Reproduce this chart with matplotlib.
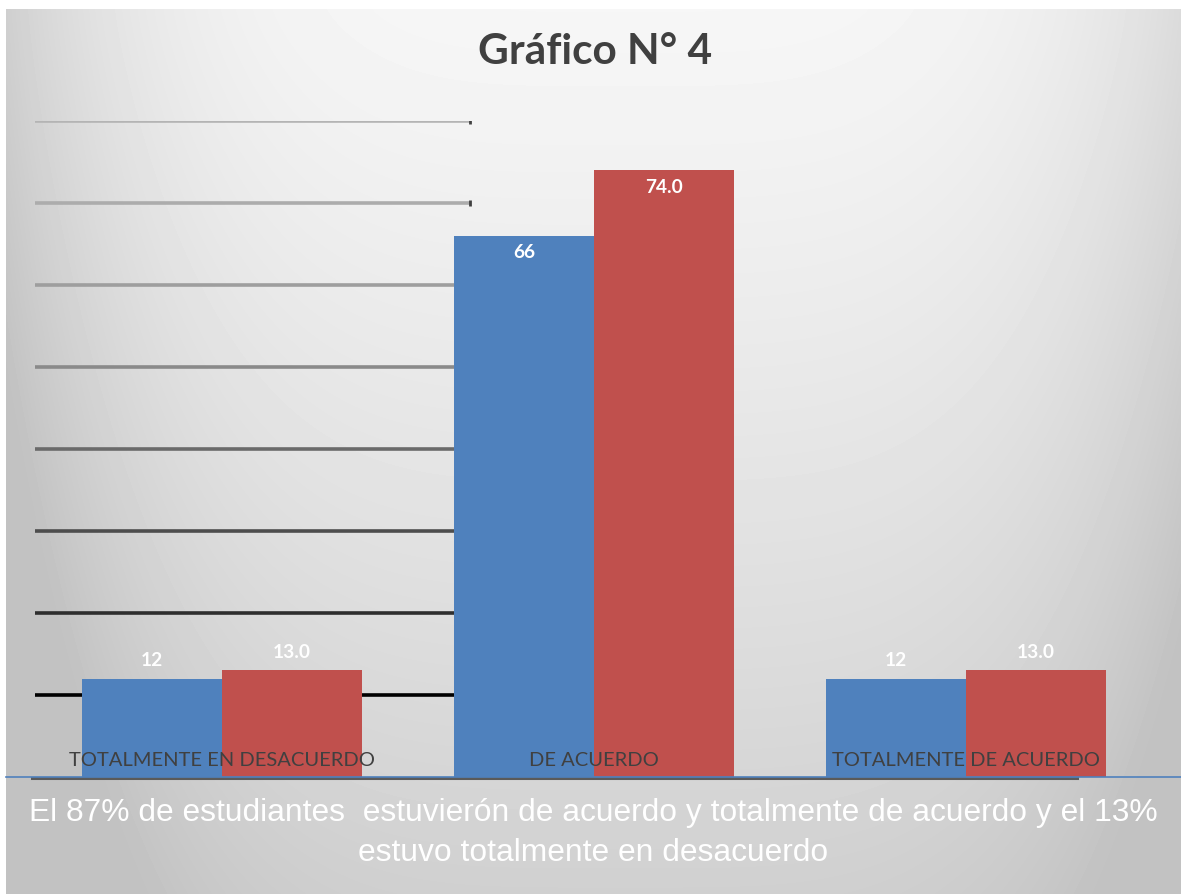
import numpy as np
import matplotlib
matplotlib.use("Agg")
import matplotlib.pyplot as plt

# data
categorias = ["TOTALMENTE EN DESACUERDO", "DE ACUERDO", "TOTALMENTE DE ACUERDO"]
serie_azul = [12, 66, 12]
serie_roja = [13.0, 74.0, 13.0]
etiq_azul = ["12", "66", "12"]
etiq_roja = ["13.0", "74.0", "13.0"]
grid_vals = [10, 20, 30, 40, 50, 60, 70, 80]
grid_cols = ["#000000", "#2e2e2e", "#4d4d4d", "#6a6a6a", "#8a8a8a", "#9e9e9e", "#acacac", "#b4b4b4"]

titulo = "Gráfico N° 4"
nota1 = "El 87% de estudiantes  estuvierón de acuerdo y totalmente de acuerdo y el 13%"
nota2 = "estuvo totalmente en desacuerdo"

W, H = 1181, 895
fig = plt.figure(figsize=(W / 100, H / 100), dpi=100)
fig.patch.set_facecolor("white")

# gradient background
bg = fig.add_axes([6 / W, 0, 1 - 6 / W, (H - 10) / H])
bg.set_axis_off()
yy, xx = np.mgrid[10:H, 6:W]
yn = (yy - 10) / (H - 10)
v = 0.965 - 0.15 * yn ** 1.2 - 0.14 * (np.abs(xx - 620) / 600.0) ** 4
v = np.clip(v, 0.76, 0.97)
bg.imshow(v, cmap="gray", vmin=0, vmax=1, aspect="auto", interpolation="bilinear")

# main axes
px = 372.0   # pixels per category
py = 8.2     # pixels per unit
left_px, right_px = 35, 1145
x0 = 222
ax = fig.add_axes([left_px / W, (H - 778) / H, (right_px - left_px) / W, (778 - 122) / H])
ax.patch.set_alpha(0)
ax.set_xlim((left_px - x0) / px, (right_px - x0) / px)
ax.set_ylim(0, (778 - 122) / py)
ax.set_axis_off()

gx0, gx1 = (35 - x0) / px, (470 - x0) / px
for gv, gc in zip(grid_vals, grid_cols):
    ax.hlines(gv, gx0, gx1, colors=gc, lw=2.6, zorder=1)
    ax.plot([gx1], [gv], marker="|", ms=5, mew=2, color="#404040", zorder=1)

x = np.arange(len(categorias))
w = 140 / px
b1 = ax.bar(x - w / 2, serie_azul, w, color="#4F81BD", zorder=2)
b2 = ax.bar(x + w / 2, serie_roja, w, color="#C0504D", zorder=2)

for bars, labs in ((b1, etiq_azul), (b2, etiq_roja)):
    for r, lab in zip(bars, labs):
        h = r.get_height()
        off = -16 if h > 40 else 19
        ax.annotate(lab, (r.get_x() + r.get_width() / 2, h), xytext=(0, off),
                    textcoords="offset pixels", ha="center", va="center",
                    color="white", fontsize=13.8, fontweight="bold", family="Lato", zorder=4)

for xi, cat in zip(x, categorias):
    ax.annotate(cat, (xi, 0), xytext=(0, 17), textcoords="offset pixels",
                ha="center", va="center", color="#404040", fontsize=14.5,
                family="Lato", zorder=4)

# baseline
fig.add_artist(plt.Line2D([32 / W, 1077 / W], [(H - 779) / H] * 2, color="#5a5a5a", lw=2.2))
fig.add_artist(plt.Line2D([6 / W, 1181 / W], [(H - 778) / H] * 2, color="#4F81BD", lw=1.2))

fig.text(595 / W, 1 - 52 / H, titulo, ha="center", va="center", fontsize=30.5,
         fontweight="bold", color="#404040", family="Lato")
fig.text(593 / W, 1 - 813 / H, nota1, ha="center", va="center", fontsize=22.9,
         color="white", family="Liberation Sans")
fig.text(593 / W, 1 - 853 / H, nota2, ha="center", va="center", fontsize=22.9,
         color="white", family="Liberation Sans")

fig.savefig("out.png", dpi=100)
